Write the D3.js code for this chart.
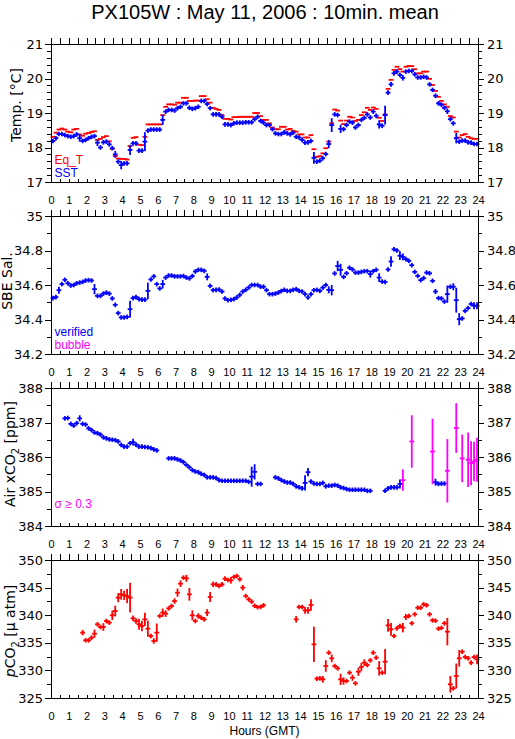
<!DOCTYPE html>
<html><head><meta charset="utf-8">
<script src="https://cdn.jsdelivr.net/npm/d3@7"></script>
<style>html,body{margin:0;padding:0;background:#fff;}svg{display:block;}</style>
</head><body>
<svg id="c" width="515" height="739"></svg>
<script>
// ---------------- DATA (10-minute means, 144 slots per day, null = no data) ----------------
const hourLabels = ["0","1","2","3","4","5","6","7","8","9","10","11","12","13","14","15","16","17","18","19","20","21","22","23","24"];
const tempTicks = [17,18,19,20,21];
const salTicks  = [34.2,34.4,34.6,34.8,35];
const xco2Ticks = [384,385,386,387,388];
const pco2Ticks = [325,330,335,340,345,350];

const sst = [
18.19,18.27,18.39,18.39,18.36,18.33, 18.31,18.33,18.38,18.27,18.19,18.22,
18.27,18.31,18.33,18.14,18.00,18.15, 18.17,18.09,17.98,17.80,17.59,17.49,
17.54,17.54,17.93,18.12,18.12,17.91, 17.91,18.17,18.49,18.52,18.52,18.52,
18.52,18.80,19.04,19.09,19.09,19.07, 19.14,19.18,19.28,19.28,19.15,19.12,
19.14,19.18,19.35,19.35,19.26,19.14, 18.96,18.96,18.96,18.89,18.67,18.67,
18.65,18.70,18.72,18.72,18.72,18.73, 18.73,18.73,18.82,18.89,18.77,18.72,
18.65,18.65,18.53,18.41,18.39,18.39, 18.44,18.41,18.38,18.43,18.31,18.29,
18.22,18.14,18.15,18.19,17.70,17.59, 17.62,17.69,17.81,18.10,18.65,18.96,
18.94,18.54,18.53,18.65,18.75,18.72, 18.58,18.65,18.80,18.86,18.96,18.87,
19.04,18.92,18.67,18.63,18.94,19.59, 19.83,20.15,20.20,20.10,20.02,20.20,
20.22,20.22,20.12,20.03,20.03,20.05, 20.03,19.83,19.67,19.50,19.28,19.24,
19.15,19.05,18.82,18.70,18.27,18.17, 18.20,18.20,18.15,18.14,18.10,18.10];
const sstErr = [
.03,.03,.03,.03,.03,.03, .03,.03,.03,.10,.03,.03,
.03,.03,.03,.10,.03,.03, .03,.03,.03,.10,.03,.12,
.03,.03,.15,.03,.03,.03, .03,.27,.03,.03,.03,.03,
.03,.15,.03,.03,.03,.03, .03,.03,.03,.03,.05,.03,
.03,.03,.03,.03,.03,.05, .03,.03,.06,.03,.03,.03,
.03,.03,.03,.03,.03,.03, .03,.03,.03,.03,.06,.03,
.03,.03,.03,.03,.03,.06, .03,.03,.03,.03,.03,.03,
.03,.03,.03,.03,.17,.03, .03,.03,.03,.12,.20,.03,
.03,.12,.03,.03,.03,.03, .03,.03,.03,.03,.03,.03,
.03,.03,.12,.03,.27,.03, .03,.03,.03,.03,.08,.03,
.03,.03,.03,.03,.03,.03, .03,.03,.03,.03,.03,.03,
.03,.08,.03,.03,.15,.03, .03,.03,.03,.03,.03,.03];
const eqT = [
18.31,18.43,18.52,18.55,18.52,18.46, 18.44,18.52,18.54,18.38,18.34,18.40,
18.42,18.45,18.47,18.22,18.25,18.30, 18.33,18.18,17.96,17.75,17.68,17.67,
17.67,17.65,18.04,18.28,18.30,18.08, 18.07,18.31,18.67,18.67,18.67,18.67,
18.67,18.94,19.18,19.25,19.25,19.24, 19.30,19.30,19.44,19.44,19.35,19.35,
19.36,19.36,19.49,19.49,19.40,19.30, 19.15,19.12,19.09,18.94,18.83,18.83,
18.81,18.88,18.88,18.89,18.89,18.89, 18.89,18.89,19.00,19.00,18.91,18.80,
18.80,18.70,18.58,18.53,18.53,18.60, 18.60,18.52,18.54,18.48,18.46,18.38,
18.38,18.29,18.29,18.36,17.95,17.73, 17.75,17.83,17.98,18.17,18.70,19.10,
19.07,18.78,18.68,18.78,18.89,18.87, 18.77,18.80,18.94,19.02,19.15,19.09,
19.16,19.12,18.86,18.77,18.96,19.70, 19.96,20.25,20.34,20.27,20.20,20.34,
20.36,20.36,20.27,20.15,20.15,20.20, 20.20,19.99,19.81,19.64,19.47,19.35,
19.25,19.18,18.91,18.87,18.46,18.29, 18.36,18.39,18.31,18.27,18.25,18.25];

const sal = [
34.524,34.530,34.570,34.605,34.630,34.610, 34.597,34.600,34.610,34.614,34.618,34.626,
34.628,34.626,34.576,34.537,34.537,34.550, 34.556,34.550,34.522,34.485,34.437,34.412,
34.412,34.415,34.460,34.524,34.530,34.518, 34.515,34.515,34.566,34.632,34.650,34.605,
34.580,34.605,34.643,34.655,34.655,34.650, 34.650,34.650,34.652,34.643,34.638,34.652,
34.678,34.688,34.688,34.682,34.647,34.595, 34.570,34.572,34.574,34.562,34.522,34.512,
34.514,34.518,34.528,34.543,34.562,34.572, 34.585,34.600,34.600,34.600,34.590,34.590,
34.570,34.547,34.547,34.550,34.556,34.565, 34.572,34.566,34.566,34.572,34.576,34.566,
34.562,34.547,34.528,34.547,34.570,34.572, 34.566,34.585,34.600,34.572,34.570,34.667,
34.710,34.688,34.647,34.668,34.700,34.690, 34.672,34.672,34.676,34.680,34.680,34.663,
34.680,34.688,34.643,34.620,34.617,34.690, 34.736,34.807,34.800,34.770,34.763,34.750,
34.740,34.715,34.676,34.653,34.628,34.640, 34.672,34.668,34.624,34.562,34.524,34.522,
34.504,34.547,34.590,34.590,34.512,34.402, 34.406,34.450,34.466,34.490,34.480,34.480];
const salErr = [
.005,.005,.020,.005,.005,.005, .005,.005,.005,.005,.005,.005,
.005,.005,.030,.005,.005,.005, .005,.005,.005,.005,.005,.005,
.005,.005,.048,.005,.005,.005, .005,.005,.048,.005,.005,.005,
.005,.025,.005,.005,.005,.005, .005,.005,.005,.005,.005,.005,
.005,.005,.005,.005,.020,.005, .005,.005,.005,.005,.005,.005,
.005,.005,.005,.005,.005,.005, .005,.005,.005,.005,.005,.005,
.005,.005,.005,.005,.005,.005, .005,.005,.005,.005,.005,.005,
.005,.005,.005,.005,.005,.005, .005,.005,.005,.020,.030,.005,
.030,.035,.005,.005,.005,.005, .005,.005,.005,.005,.005,.020,
.005,.005,.025,.005,.005,.005, .030,.005,.005,.025,.020,.005,
.005,.005,.005,.005,.005,.005, .005,.005,.005,.015,.005,.005,
.005,.050,.005,.020,.072,.035, .005,.005,.005,.005,.020,.020];

const xco2 = [
null,null,null,null,387.12,387.13, 386.96,386.91,386.98,387.12,386.96,386.94,
386.83,386.78,386.71,386.69,386.65,386.57, 386.54,386.51,386.50,386.49,386.45,386.35,
386.30,386.30,386.40,386.43,386.36,386.30, 386.30,386.29,386.28,386.26,386.22,386.19,
null,null,null,385.96,385.96,385.96, 385.93,385.90,385.85,385.77,385.70,385.62,
385.58,385.56,385.51,385.48,385.41,385.41, 385.41,385.39,385.33,385.31,385.31,385.31,
385.31,385.31,385.31,385.31,385.31,385.31, 385.28,385.43,385.57,385.22,385.22,null,
null,null,null,385.41,385.38,385.33, 385.29,385.26,385.26,385.22,385.15,385.12,
385.09,385.25,385.56,385.29,385.23,385.22, 385.22,385.25,385.15,385.17,385.17,385.19,
385.17,385.12,385.10,385.07,385.05,385.05, 385.05,385.05,385.05,385.05,385.02,385.02,
null,null,null,null,385.02,385.09, 385.12,385.12,385.12,385.22,385.33,null,
null,386.45,null,null,null,null, null,null,386.16,385.27,385.22,385.23,
385.23,385.60,null,null,386.84,null, 385.96,null,385.92,385.82,385.87,385.92];
const xco2Err = [
.03,.03,.03,.03,.03,.06, .03,.03,.06,.09,.03,.03,
.03,.03,.03,.03,.03,.03, .03,.03,.03,.03,.03,.03,
.03,.03,.03,.10,.03,.03, .03,.03,.03,.03,.03,.03,
.03,.03,.03,.03,.03,.03, .03,.03,.03,.03,.03,.03,
.03,.03,.03,.03,.03,.03, .03,.03,.03,.03,.03,.03,
.03,.03,.03,.03,.03,.03, .03,.29,.22,.03,.03,.03,
.03,.03,.03,.03,.03,.03, .03,.03,.03,.03,.03,.03,
.03,.22,.12,.03,.03,.03, .03,.03,.03,.03,.03,.03,
.03,.03,.03,.03,.03,.03, .03,.03,.03,.03,.03,.03,
.03,.03,.03,.03,.03,.03, .03,.03,.03,.13,.31,.03,
.03,.76,.03,.03,.03,.03, .03,.03,.95,.10,.03,.03,
.03,.92,.03,.03,.72,.03, .69,.03,.79,.64,.57,.64];

const pco2 = [
null,null,null,null,null,null, null,null,null,null,336.84,335.45,
335.45,335.93,336.65,338.35,337.86,337.86, 338.95,338.65,339.98,340.76,343.18,343.78,
343.60,343.48,343.18,339.43,338.95,338.35, 338.04,339.25,337.56,336.23,335.33,336.84,
339.86,340.46,340.28,341.24,341.67,342.57, 344.08,345.71,346.80,346.68,343.78,339.98,
338.95,339.86,339.55,339.25,340.46,343.30, 345.59,345.59,345.29,345.59,346.62,346.38,
346.32,346.92,347.10,346.50,344.99,343.48, 342.87,342.45,341.70,341.45,341.50,341.79,
null,null,null,null,null,null, null,null,null,null,339.25,341.49,
341.49,340.88,340.88,341.85,334.72,328.50, 328.56,328.38,330.80,333.21,332.19,330.80,
330.37,328.38,328.08,328.08,329.59,328.68, 327.66,329.77,330.62,331.40,330.98,331.82,
333.21,332.31,330.37,329.59,331.58,338.16, 337.44,336.23,337.62,338.04,337.74,339.67,
339.86,338.53,340.16,341.36,341.36,341.97, 341.80,340.16,339.07,339.00,337.56,337.70,
338.53,337.02,327.48,326.75,328.99,332.19, 333.39,332.43,332.19,331.40,332.43,332.00];
const pco2Err = [
.4,.4,.4,.4,.4,.4, .4,.4,.4,.4,.5,.4,
.4,.4,.75,.4,.4,.7, .4,.4,.85,.97,.82,.97,
.85,1.3,2.7,.5,.5,1.0, .97,1.2,1.45,.4,.5,1.66,
.4,.75,.6,.4,.4,.5, .75,.6,.4,.63,1.15,.9,
.4,.5,.4,.4,.63,.9, .5,.4,.4,.4,.4,.4,
.6,.4,.4,.4,.5,.4, .4,.4,.4,.4,.4,.4,
.4,.4,.4,.4,.4,.4, .4,.4,.4,.4,.6,.4,
.4,.6,.6,1.05,3.2,.4, .4,.6,1.05,.4,.7,.4,
.4,1.03,.66,.4,.4,.55, .4,.75,.75,.6,.4,.4,
.4,.4,1.3,.4,2.3,1.15, 1.15,.4,.4,.4,.85,.55,
.4,.4,.4,.4,.4,.4, .4,.4,.4,.4,.4,.4,
.4,2.5,1.5,.4,2.25,1.5, .4,.4,.4,.4,.4,.9];

// ---------------- COLOURS / LAYOUT ----------------
const RED = "#ff0000", BLUE = "#0000ff", MAG = "#ff00ff";
const svg = d3.select("#c");
const x = d3.scaleLinear().domain([0, 24]).range([51, 478]);
const panelTops = [44, 216, 388, 560];
const PH = 138;
const SLOTS_PER_HOUR = 6;
const hourVals = hourLabels.map(Number);
const halfHours = d3.range(0, 24.01, 0.5);
const tickFont = "'DejaVu Sans', sans-serif";
const hourFont = "'Liberation Sans', Arial, sans-serif";

const panels = [
  { domain:[17,21], ticks:tempTicks, minor:d3.range(17,21.001,0.2),
    title:[{t:"Temp. [°C]"}], titleX:21, titleDy:-8,
    legend:[{t:"Eq_T", c:RED},{t:"SST", c:BLUE}],
    series:[{v:eqT, e:null, col:()=>RED, minHalf:0},
            {v:sst, e:sstErr, col:()=>BLUE, minHalf:2.3}] },
  { domain:[34.2,35], ticks:salTicks, minor:d3.range(34.2,35.001,0.1),
    title:[{t:"SBE Sal."}], titleX:12, titleDy:-4,
    legend:[{t:"verified", c:BLUE},{t:"bubble", c:MAG}],
    series:[{v:sal, e:salErr, col:()=>BLUE, minHalf:2.3}] },
  { domain:[384,388], ticks:xco2Ticks, minor:d3.range(384,388.001,0.5),
    title:[{t:"Air xCO"},{t:"2", sub:true},{t:" [ppm]"}], titleX:15, titleDy:-3,
    legend:[{t:"σ ≥ 0.3", c:MAG}],
    series:[{v:xco2, e:xco2Err, col:(d)=> d.e >= 0.3 ? MAG : BLUE, minHalf:2.3}] },
  { domain:[325,350], ticks:pco2Ticks, minor:d3.range(325,350.001,2.5),
    title:[{t:"p", it:true},{t:"CO"},{t:"2", sub:true},{t:" [μ atm]"}], titleX:15, titleDy:2,
    legend:[],
    series:[{v:pco2, e:pco2Err, col:()=>RED, minHalf:2.3}] }
];

const fmt = d3.format("~g");

function styleAxis(a, font, size) {
  a.select(".domain").remove();
  a.attr("shape-rendering","crispEdges");
  a.selectAll("line").attr("stroke","#000");
  a.selectAll("text").attr("fill","#000").style("font-family", font).style("font-size", size+"px");
}

panels.forEach((p, k) => {
  const top = panelTops[k], bot = top + PH;
  const y = d3.scaleLinear().domain(p.domain).range([bot, top]);
  const g = svg.append("g");

  // marks
  p.series.forEach(s => {
    const pts = s.v.map((v,i)=>({i, v, e: s.e ? s.e[i] : 0})).filter(d => d.v != null);
    const mg = g.append("g").attr("stroke-width", 1.8).attr("fill","none");
    const cx = d => x((d.i + 0.5) / SLOTS_PER_HOUR) + 0.5;
    const m = mg.selectAll("g").data(pts).join("g").attr("stroke", d => s.col(d));
    m.append("line")
      .attr("x1", d => cx(d) - 2.4).attr("x2", d => cx(d) + 2.4)
      .attr("y1", d => y(d.v)).attr("y2", d => y(d.v));
    m.filter(d => s.minHalf > 0 || d.e > 0).append("line")
      .attr("x1", cx).attr("x2", cx)
      .attr("y1", d => Math.min(y(d.v + d.e), y(d.v) - s.minHalf))
      .attr("y2", d => Math.max(y(d.v - d.e), y(d.v) + s.minHalf));
  });

  // frame
  g.append("rect").attr("x", x(0)+0.5).attr("y", top+0.5)
    .attr("width", x(24)-x(0)).attr("height", PH)
    .attr("fill","none").attr("stroke","#000").attr("shape-rendering","crispEdges");

  // top ticks (outward)
  g.append("g").attr("transform",`translate(0,${top})`)
    .call(d3.axisTop(x).tickValues(halfHours).tickSize(6).tickFormat(""))
    .call(a => styleAxis(a, hourFont, 11));
  // bottom ticks (inward)
  g.append("g").attr("transform",`translate(0,${bot})`)
    .call(d3.axisBottom(x).tickValues(halfHours).tickSize(-3).tickFormat(""))
    .call(a => styleAxis(a, hourFont, 11));
  // hour labels
  g.append("g").attr("transform",`translate(0,${bot})`)
    .call(d3.axisBottom(x).tickValues(hourVals).tickSize(0).tickFormat((d,i)=>hourLabels[i]))
    .call(a => { styleAxis(a, hourFont, 11); a.selectAll("line").remove();
                 a.selectAll("text").attr("y", 21.5).attr("dy", null); });

  // left / right axes
  const L = x(0), R = x(24);
  const minorOnly = p.minor.filter(v => !p.ticks.some(t => Math.abs(t - v) < 1e-6));
  g.append("g").attr("transform",`translate(${L},0)`)
    .call(d3.axisLeft(y).tickValues(minorOnly).tickSize(4).tickFormat(""))
    .call(a => styleAxis(a, tickFont, 13));
  g.append("g").attr("transform",`translate(${L},0)`)
    .call(d3.axisLeft(y).tickValues(p.ticks).tickSize(6).tickPadding(2).tickFormat(fmt))
    .call(a => styleAxis(a, tickFont, 13));
  g.append("g").attr("transform",`translate(${R},0)`)
    .call(d3.axisRight(y).tickValues(minorOnly).tickSize(4).tickFormat(""))
    .call(a => styleAxis(a, tickFont, 13));
  g.append("g").attr("transform",`translate(${R},0)`)
    .call(d3.axisRight(y).tickValues(p.ticks).tickSize(6).tickPadding(3).tickFormat(fmt))
    .call(a => styleAxis(a, tickFont, 13));

  // y-axis title
  const tt = g.append("text")
    .attr("transform", `translate(${p.titleX},${(top+bot)/2 + p.titleDy}) rotate(-90)`)
    .attr("text-anchor","middle")
    .style("font-family", tickFont).style("font-size","14px").attr("fill","#000");
  p.title.forEach((part, j) => {
    const ts = tt.append("tspan").text(part.t);
    if (part.sub) ts.style("font-size","10px").attr("dy", 4);
    else if (j > 0 && p.title[j-1].sub) ts.attr("dy", -4);
    if (part.it) ts.style("font-style","italic");
  });

  // legend texts
  p.legend.forEach((l, j) => {
    g.append("text").attr("x", x(0)+3.5).attr("y", bot - 18.5 + j*13)
      .attr("fill", l.c).style("font-family", hourFont).style("font-size","12px").text(l.t);
  });
});

// title and x-axis label
svg.append("text").attr("x", (x(0)+x(24))/2 + 0.5).attr("y", 18.5)
  .attr("text-anchor","middle").style("font-family", hourFont).style("font-size","20px")
  .text("PX105W : May 11, 2006 : 10min. mean");
svg.append("text").attr("x", (x(0)+x(24))/2).attr("y", 735)
  .attr("text-anchor","middle").style("font-family", hourFont).style("font-size","12px")
  .text("Hours (GMT)");
</script>
</body></html>
